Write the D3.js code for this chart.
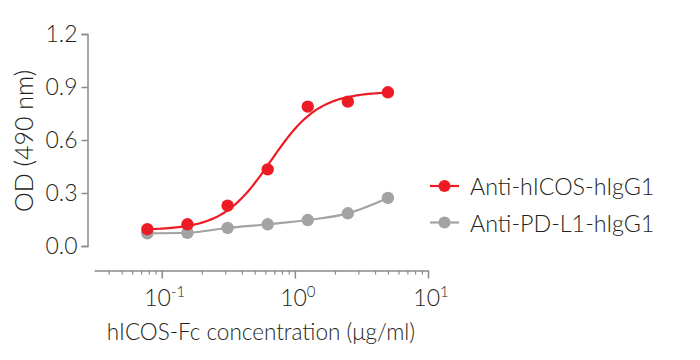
<!DOCTYPE html>
<html><head><meta charset="utf-8">
<script src="https://cdn.jsdelivr.net/npm/d3@7"></script>
<style>
body{margin:0;background:#fff;}
text{font-family:Lato,"Open Sans",sans-serif;font-weight:300;fill:#231f20;}
</style></head>
<body><svg id="c" width="700" height="360"></svg>
<script>
const conc = [0.078, 0.156, 0.3125, 0.625, 1.25, 2.5, 5];
const icos = [0.095, 0.123, 0.228, 0.434, 0.789, 0.817, 0.870];
const pdl1 = [0.072, 0.075, 0.102, 0.123, 0.147, 0.185, 0.272];
const icosFit = [0.09, 0.874, 0.66, 2.4]; // bottom, top, EC50, Hill (4PL fit)
const yTicks = [0, 0.3, 0.6, 0.9, 1.2];
const xTicks = [0.1, 1, 10];
const xTickLabels = [["10","-1"],["10","0"],["10","1"]];
const seriesNames = ["Anti-hICOS-hIgG1", "Anti-PD-L1-hIgG1"];
const colors = ["#ed1c24", "#a3a3a6"];

const svg = d3.select("#c");
const x = d3.scaleLog().domain([0.031, 10]).range([94, 428]);
const y = d3.scaleLinear().domain([0, 1.2]).range([246, 34]);
const axisColor = "#8a8a8a";

// Y axis
const ya = svg.append("g").attr("transform","translate(87.5,0)")
  .call(d3.axisLeft(y).tickValues(yTicks).tickFormat(d3.format(".1f")).tickSize(6).tickPadding(4));
ya.select(".domain").attr("stroke",axisColor).attr("stroke-width",1.5);
ya.selectAll(".tick line").attr("stroke",axisColor).attr("stroke-width",1.5);
ya.selectAll(".tick text").style("font-size","23px").style("font-family","Lato").style("font-weight","300").attr("fill","#231f20");

// X axis
const minor = [];
[0.01,0.1,1].forEach(d=>{for(let i=2;i<=9;i++){const v=d*i; if(v>=0.031&&v<=10) minor.push(v);}});
const xa = svg.append("g").attr("transform","translate(0,270.5)")
  .call(d3.axisBottom(x).tickValues(minor).tickFormat("").tickSizeInner(4).tickSizeOuter(0));
xa.select(".domain").attr("stroke",axisColor).attr("stroke-width",1.5);
xa.selectAll(".tick line").attr("stroke",axisColor).attr("stroke-width",1.2);
const xb = svg.append("g").attr("transform","translate(0,270.5)")
  .call(d3.axisBottom(x).tickValues(xTicks).tickFormat("").tickSizeInner(8).tickSizeOuter(0));
xb.select(".domain").remove();
xb.selectAll(".tick line").attr("stroke",axisColor).attr("stroke-width",1.5);
xTicks.forEach((v,i)=>{
  const t = svg.append("text").attr("x",x(v)+3).attr("y",306).attr("text-anchor","middle").style("font-size","23px");
  t.append("tspan").text(xTickLabels[i][0]);
  t.append("tspan").attr("dy",-9).style("font-size","15px").text(xTickLabels[i][1]);
});

// Titles
svg.append("text").attr("transform","translate(33,141) rotate(-90)").attr("text-anchor","middle")
  .style("font-size","25px").text("OD (490 nm)");
svg.append("text").attr("x",261).attr("y",340).attr("text-anchor","middle")
  .style("font-size","22.5px").text("hICOS-Fc concentration (μg/ml)");

// Red fitted curve
const [b,tp,ec,h] = icosFit;
const xs = d3.range(0,101).map(i=>Math.exp(Math.log(conc[0])+(Math.log(conc[6])-Math.log(conc[0]))*i/100));
const fitPts = xs.map(v=>[v, b+(tp-b)/(1+Math.pow(ec/v,h))]);
const line = d3.line().x(d=>x(d[0])).y(d=>y(d[1]));

// Gray line
svg.append("path").datum(conc.map((c,i)=>[c,pdl1[i]]))
  .attr("d", line.curve(d3.curveMonotoneX)).attr("fill","none").attr("stroke",colors[1]).attr("stroke-width",2.2);
svg.selectAll(".gp").data(conc).join("circle").attr("cx",d=>x(d)).attr("cy",(d,i)=>y(pdl1[i])).attr("r",6.2).attr("fill",colors[1]);

svg.append("path").datum(fitPts).attr("d", d3.line().x(d=>x(d[0])).y(d=>y(d[1]))).attr("fill","none")
  .attr("stroke",colors[0]).attr("stroke-width",2.2);
svg.selectAll(".rp").data(conc).join("circle").attr("cx",d=>x(d)).attr("cy",(d,i)=>y(icos[i])).attr("r",6.2).attr("fill",colors[0]);

// Legend
seriesNames.forEach((n,i)=>{
  const ly = 186 + i*36.5;
  svg.append("line").attr("x1",430).attr("x2",459).attr("y1",ly).attr("y2",ly).attr("stroke",colors[i]).attr("stroke-width",2.2);
  svg.append("circle").attr("cx",444.5).attr("cy",ly).attr("r",6).attr("fill",colors[i]);
  svg.append("text").attr("x",470).attr("y",ly+9).style("font-size","23.3px").text(n);
});
</script></body></html>
